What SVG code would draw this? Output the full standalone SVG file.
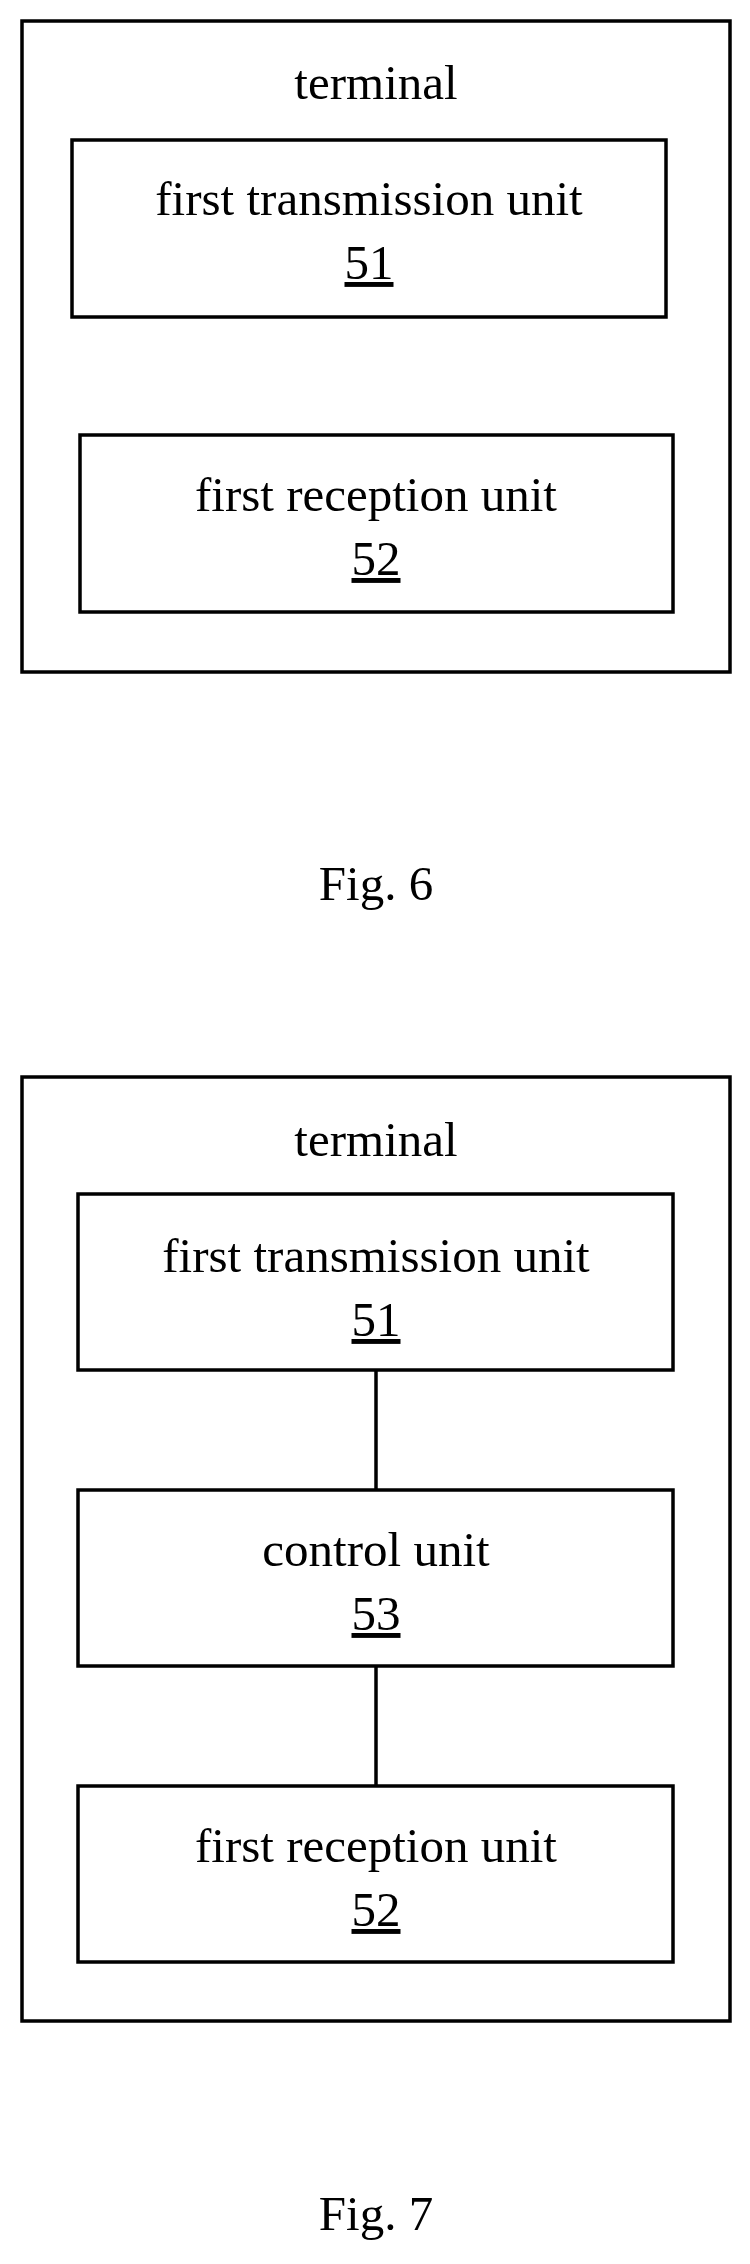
<svg xmlns="http://www.w3.org/2000/svg" width="750" height="2264" viewBox="0 0 750 2264">
<style>
rect{fill:none;stroke:#000;stroke-width:3.5}
text{font-family:"Liberation Serif",serif;font-size:49px;text-anchor:middle;fill:#000}
.u{text-decoration:underline}
line{stroke:#000;stroke-width:3.5}
</style>
<rect x="0" y="0" width="750" height="2264" style="fill:#fff;stroke:none"/>
<g id="fig6">
<rect x="22" y="21" width="708" height="651"/>
<text x="376" y="99">terminal</text>
</g>
<g id="u51a"><rect x="72" y="140" width="594" height="177"/><text x="369" y="215">first transmission unit</text><text class="u" x="369" y="279">51</text></g>
<g id="u52a"><rect x="80" y="435" width="593" height="177"/><text x="376" y="511">first reception unit</text><text class="u" x="376" y="575">52</text></g>
<text x="376" y="900">Fig. 6</text>
<g id="fig7">
<rect x="22" y="1077" width="708" height="944"/>
<text x="376" y="1156">terminal</text>
</g>
<g id="conn"><line x1="376" y1="1370" x2="376" y2="1490"/><line x1="376" y1="1666" x2="376" y2="1786"/></g>
<g id="u51b"><rect x="78" y="1194" width="595" height="176"/><text x="376" y="1272">first transmission unit</text><text class="u" x="376" y="1336">51</text></g>
<g id="u53"><rect x="78" y="1490" width="595" height="176"/><text x="376" y="1566">control unit</text><text class="u" x="376" y="1630">53</text></g>
<g id="u52b"><rect x="78" y="1786" width="595" height="176"/><text x="376" y="1862">first reception unit</text><text class="u" x="376" y="1926">52</text></g>
<text x="376" y="2230">Fig. 7</text>
</svg>
